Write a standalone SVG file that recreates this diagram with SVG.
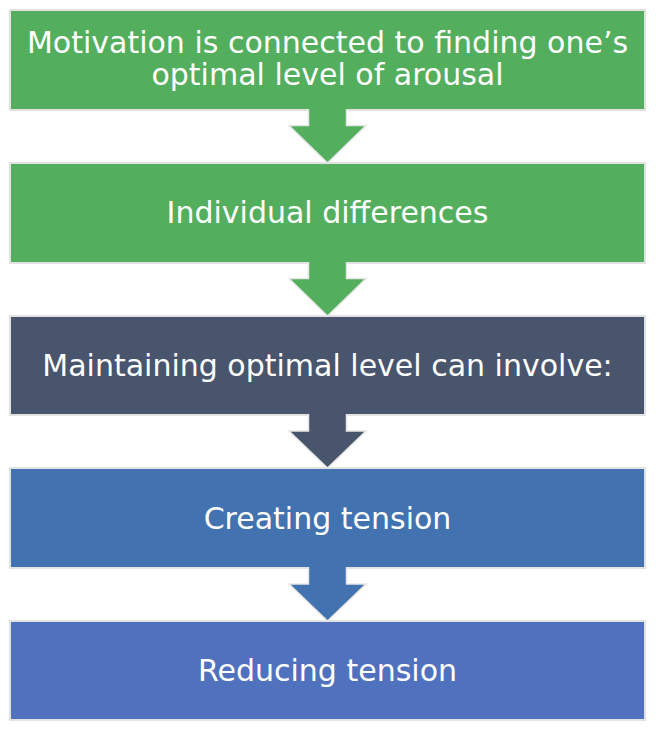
<svg xmlns="http://www.w3.org/2000/svg" width="656" height="732" viewBox="0 0 656 732">
<style>
.box{stroke:#e2e2e2;stroke-width:2}
.arr{stroke:#e6e6e6;stroke-width:1.5;stroke-linejoin:miter}
.t{font-family:"DejaVu Sans",Verdana,sans-serif;font-size:30px;fill:#ffffff;text-anchor:middle}
.g{fill:#53ae5d}.d{fill:#48556c}.b{fill:#4272af}.p{fill:#5071bd}
</style>
<rect width="656" height="732" fill="#ffffff"/>
<g id="node1"><rect class="box g" x="10" y="10" width="635" height="100"/><text class="t" x="327.5" y="53">Motivation is connected to finding one’s</text><text class="t" x="327.5" y="85">optimal level of arousal</text></g>
<g id="node2"><rect class="box g" x="10" y="163" width="635" height="100"/><text class="t" x="327.5" y="223">Individual differences</text></g>
<g id="node3"><rect class="box d" x="10" y="316" width="635" height="99"/><text class="t" x="327.5" y="376">Maintaining optimal level can involve:</text></g>
<g id="node4"><rect class="box b" x="10" y="468" width="635" height="100"/><text class="t" x="327.5" y="529">Creating tension</text></g>
<g id="node5"><rect class="box p" x="10" y="621" width="635" height="99"/><text class="t" x="327.5" y="681">Reducing tension</text></g>
<g id="connectors">
<path class="arr g" d="M308.5 109 V125.5 H289 L327.5 163 L366 125.5 H346.5 V109"/>
<path class="arr g" d="M308.5 262 V278.5 H289 L327.5 316 L366 278.5 H346.5 V262"/>
<path class="arr d" d="M308.5 414 V431 H289 L327.5 468 L366 431 H346.5 V414"/>
<path class="arr b" d="M308.5 567 V584 H289 L327.5 621 L366 584 H346.5 V567"/>
</g>
</svg>
